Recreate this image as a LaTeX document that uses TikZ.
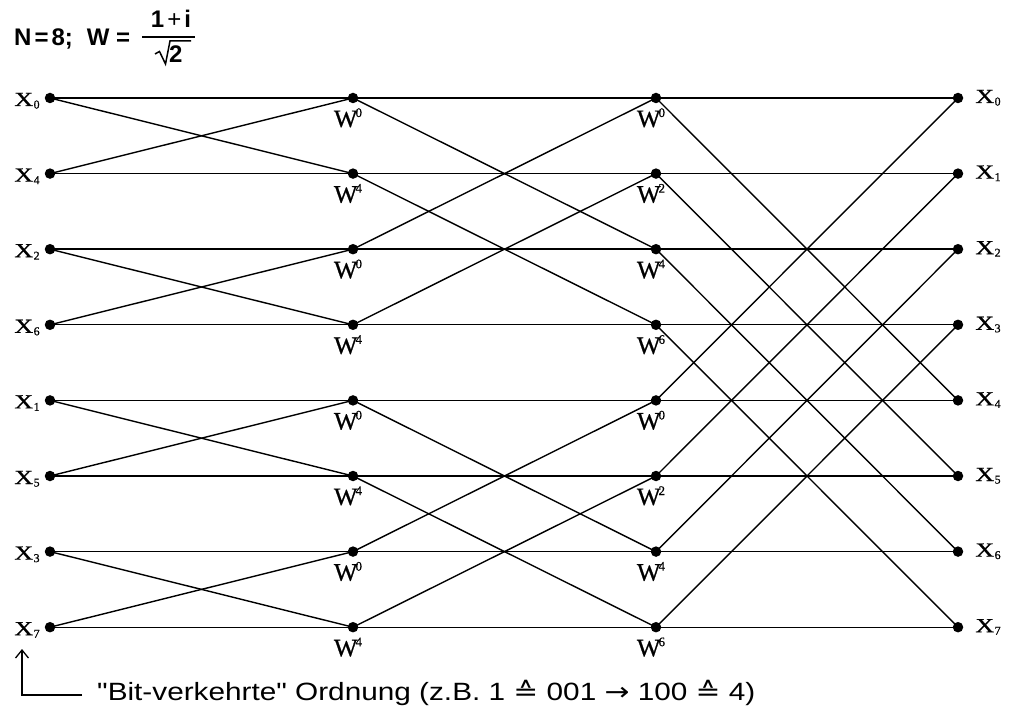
\documentclass[tikz,border=0pt]{standalone}
\usepackage{fontspec}
\setmainfont{Liberation Serif}
\setsansfont{Liberation Sans}[Ligatures=NoCommon]
\newfontfamily\labfont{Liberation Serif}[FakeBold=0.8]
\newfontfamily\dejavu{DejaVu Sans}
\usetikzlibrary{arrows.meta}
\tikzset{
  dot/.style={circle,fill=black,inner sep=0pt,minimum size=10.5pt},
  wire/.style={line width=1.4pt,black},
  xlab/.style={inner sep=0pt,anchor=base,font=\labfont\fontsize{20}{20}\selectfont},
  wlab/.style={inner sep=0pt,anchor=base,font=\labfont\fontsize{25}{25}\selectfont},
  ftext/.style={inner sep=0pt,anchor=base,font=\sffamily\bfseries\fontsize{24}{24}\selectfont},
}
\newcommand{\Xl}[1]{\scalebox{1.3}[1]{X}\kern0.5pt\raisebox{-2.5pt}{\fontsize{12}{12}\selectfont #1}}
\newcommand{\Wl}[1]{W\kern-2pt\raisebox{10pt}{\fontsize{13}{13}\selectfont #1}}
\begin{document}
\begin{tikzpicture}[x=1pt,y=-1pt]
\useasboundingbox (0,0) rectangle (1012,708);
\foreach \i in {0,...,7}{
  \pgfmathsetmacro{\yy}{98+75.6*\i}
  \node[dot] (a\i) at (50,\yy) {};
  \node[dot] (b\i) at (353,\yy) {};
  \node[dot] (c\i) at (656,\yy) {};
  \node[dot] (d\i) at (958,\yy) {};
}
% left labels (bit-reversed order)
\foreach \i/\k in {0/0,1/4,2/2,3/6,4/1,5/5,6/3,7/7}{
  \node[xlab] (la\i) at ([xshift=-23pt,yshift=-8pt]a\i.center) {\Xl{\k}};
}
% right labels
\foreach \i in {0,...,7}{
  \node[xlab] (ld\i) at ([xshift=30pt,yshift=-5pt]d\i.center) {\Xl{\i}};
}
% twiddle labels
\foreach \i/\k in {0/0,1/4,2/0,3/4,4/0,5/4,6/0,7/4}{
  \node[wlab] (wb\i) at ([xshift=-5pt,yshift=-29pt]b\i.center) {\Wl{\k}};
}
\foreach \i/\k in {0/0,1/2,2/4,3/6,4/0,5/2,6/4,7/6}{
  \node[wlab] (wc\i) at ([xshift=-5pt,yshift=-29pt]c\i.center) {\Wl{\k}};
}
% stage 1
\foreach \p/\q in {0/1,2/3,4/5,6/7}{
  \draw[wire] (a\p.center) -- (b\p.center);
  \draw[wire] (a\q.center) -- (b\q.center);
  \draw[wire] (a\p.center) -- (b\q.center);
  \draw[wire] (a\q.center) -- (b\p.center);
}
% stage 2
\foreach \p/\q in {0/2,1/3,4/6,5/7}{
  \draw[wire] (b\p.center) -- (c\p.center);
  \draw[wire] (b\q.center) -- (c\q.center);
  \draw[wire] (b\p.center) -- (c\q.center);
  \draw[wire] (b\q.center) -- (c\p.center);
}
% stage 3
\foreach \p/\q in {0/4,1/5,2/6,3/7}{
  \draw[wire] (c\p.center) -- (d\p.center);
  \draw[wire] (c\q.center) -- (d\q.center);
  \draw[wire] (c\p.center) -- (d\q.center);
  \draw[wire] (c\q.center) -- (d\p.center);
}
% formula
\node[ftext,anchor=base west] (formula) at (14,46) {N\kern3pt=\kern3pt8;\hspace{14pt}W =};
\node[ftext] (num) at (171,28) {1\kern3pt\mdseries+\kern3pt\bfseries i};
\draw[line width=1.6pt] (142,37) -- (195,37);
\node[ftext,anchor=base west] (den) at (169,63) {2};
\draw[line width=1.5pt,line join=miter] (155,54) -- (159.5,51.5) -- (165.5,64) -- (170,41) -- (191,41);
% bit reversal note
\coordinate (corner) at (22,695);
\coordinate (arrtop) at (22,649);
\coordinate (lineend) at (82,695);
\draw[line width=1.3pt,-{Straight Barb[length=8pt,width=13pt]}] (lineend) -- (corner) -- (arrtop);
\node[inner sep=0pt,anchor=base west,font=\sffamily\fontsize{25}{25}\selectfont] (note) at (97,700)
  {\scalebox{1.19}[1]{\textquotedbl Bit-verkehrte\textquotedbl{} Ordnung (z.B. 1 {\dejavu ≙} 001 {\dejavu →} 100 {\dejavu ≙} 4)}};
\end{tikzpicture}
\end{document}
